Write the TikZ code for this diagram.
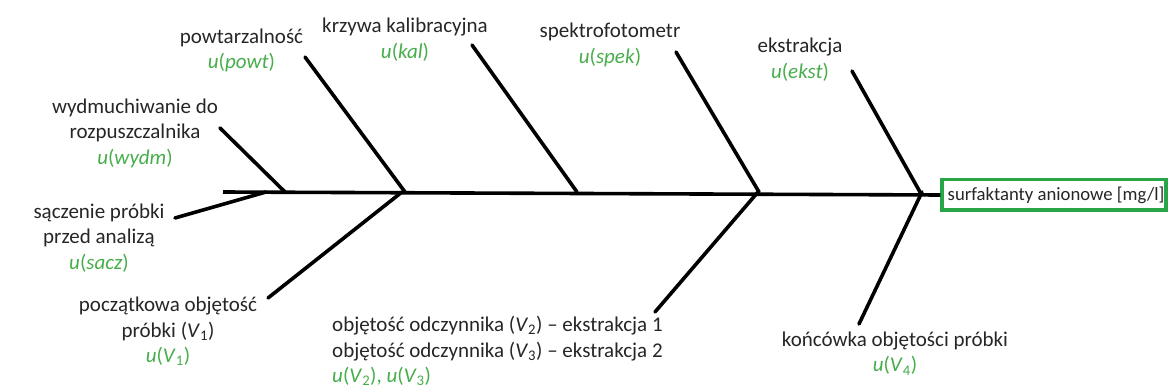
\documentclass[tikz,border=0pt]{standalone}
\usepackage{fontspec}
\setmainfont{Carlito}
\definecolor{ink}{HTML}{262626}
\definecolor{ugreen}{RGB}{72,174,76}
\definecolor{boxgreen}{RGB}{40,165,70}
\newcommand\ug[1]{\textcolor{ugreen}{#1}}
\begin{document}
\begin{tikzpicture}[x=1pt,y=-1pt,
  bone/.style={line width=3.6pt, line cap=round, black},
  lbl/.style={align=center, inner sep=0pt, text=ink, font=\fontsize{21}{25.5}\selectfont},
  lbll/.style={lbl, align=left},
  effect/.style={draw=boxgreen, line width=3.5pt, fill=white, inner sep=0pt,
     minimum width=224pt, minimum height=30.5pt, text=ink, font=\fontsize{18.7}{22}\selectfont}]
\useasboundingbox (0,0) rectangle (1168,390);
\fill[white] (0,0) rectangle (1168,390);

% effect box
\node[effect] (eff) at (1054,195) {\hspace*{4pt}surfaktanty anionowe [mg/l]};

% spine
\coordinate (tail) at (223,192);
\draw[bone, line cap=butt] (tail) -- (eff.west);

% bone coordinates
\coordinate (wydm-a) at (220,128); \coordinate (wydm-b) at (285,192);
\coordinate (sacz-a) at (175,218); \coordinate (sacz-b) at (266,192);
\coordinate (powt-a) at (305,57);  \coordinate (powt-b) at (405,192);
\coordinate (v1-a)   at (268,298); \coordinate (v1-b)   at (402,192);
\coordinate (kal-a)  at (472,45);  \coordinate (kal-b)  at (577,192);
\coordinate (spek-a) at (676,52);  \coordinate (spek-b) at (759,192);
\coordinate (v23-a)  at (655,312); \coordinate (v23-b)  at (758,192);
\coordinate (ekst-a) at (852,71);  \coordinate (ekst-b) at (920,192);
\coordinate (v4-a)   at (859,324); \coordinate (v4-b)   at (922,192);

\foreach \b in {wydm,sacz,powt,v1,kal,spek,v23,ekst,v4}
  \draw[bone] (\b-a) -- (\b-b);

% labels
\node[lbl] (l-powt) at (241.5,50.5) {powtarzalność\\\ug{\textit{u}(\textit{powt})}};
\node[lbl] (l-kal) at (405,39.5) {krzywa kalibracyjna\\\ug{\textit{u}(\textit{kal})}};
\node[lbl] (l-spek) at (610,45) {spektrofotometr\\\ug{\textit{u}(\textit{spek})}};
\node[lbl] (l-ekst) at (800,59.5) {ekstrakcja\\\ug{\textit{u}(\textit{ekst})}};
\node[lbl] (l-wydm) at (135,133) {wydmuchiwanie do\\rozpuszczalnika\\\ug{\textit{u}(\textit{wydm})}};
\node[lbl] (l-sacz) at (99,238) {sączenie próbki\\przed analizą\\\ug{\textit{u}(\textit{sacz})}};
\node[lbl] (l-v1) at (168,331.5) {początkowa objętość\\próbki (\textit{V}\textsubscript{1})\\\ug{\textit{u}(\textit{V}\textsubscript{1})}};
\node[lbll, anchor=west] (l-v23) at (332,351) {objętość odczynnika (\textit{V}\textsubscript{2}) – ekstrakcja 1\\objętość odczynnika (\textit{V}\textsubscript{3}) – ekstrakcja 2\\\ug{\textit{u}(\textit{V}\textsubscript{2}), \textit{u}(\textit{V}\textsubscript{3})}};
\node[lbl] (l-v4) at (895,353.5) {końcówka objętości próbki\\\ug{\textit{u}(\textit{V}\textsubscript{4})}};
\end{tikzpicture}
\end{document}
